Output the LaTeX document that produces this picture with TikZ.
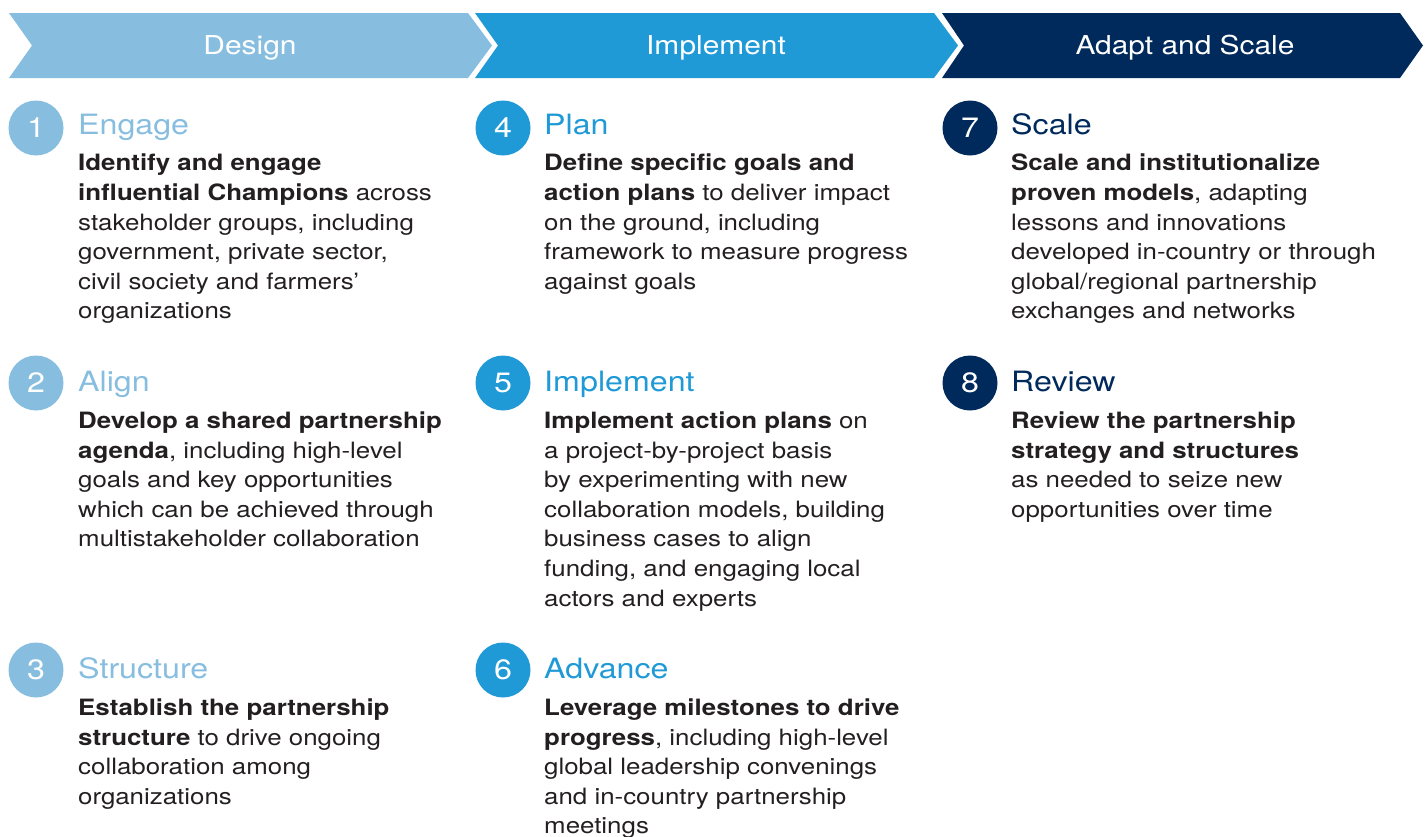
\documentclass[tikz,border=0pt]{standalone}
\usepackage{fontspec}
\setmainfont{TeX Gyre Heros}[FakeStretch=1.15]
\usetikzlibrary{positioning}

\definecolor{dsgn}{HTML}{87BEE0}
\definecolor{impl}{HTML}{1F9AD6}
\definecolor{adpt}{HTML}{012A5C}
\definecolor{txt}{HTML}{231F20}

\tikzset{
    phasebar/.style={
        fill=#1
    },
    phasename/.style={
        text=white,
        inner sep=0,
        font=\fontsize{26}{26}\selectfont
    },
    numdot/.style={
        circle,
        fill=#1, % same colour as the phase
        minimum size=55pt,
        inner sep=0,
        text=white,
        font=\fontsize{28}{28}\selectfont
    },
    steptitle/.style={
        text=#1,
        anchor=base west,
        inner sep=0,
        font=\fontsize{28}{28}\selectfont
    },
    bodytext/.style={
        align=left,
        anchor=north west,
        inner sep=0,
        text=txt,
        font=\fontsize{22.5}{29.6}\selectfont,
        execute at begin node=\strut % first line gets a fixed height
    }
}

\begin{document}
\begin{tikzpicture}[x=1pt, y=-1pt]
    \useasboundingbox (0,0) rectangle (1428,836);

    % chevrons
    \fill[phasebar=dsgn] (9,13) -- (468,13) -- (492,45.5) -- (468,78) -- (9,78) -- (32,45.5) -- cycle;
    \fill[phasebar=impl] (475,13) -- (934,13) -- (958,45.5) -- (934,78) -- (475,78) -- (498,45.5) -- cycle;
    \fill[phasebar=adpt] (942,13) -- (1400,13) -- (1423,45.5) -- (1400,78) -- (942,78) -- (964,45.5) -- cycle;
    \node[phasename] (design) at (250,48) {Design};
    \node[phasename] (implement) at (716,48) {Implement};
    \node[phasename] (adapt) at (1185,48) {Adapt and Scale};

    % Design
    \node[numdot=dsgn] (n1) at (36,128) {1};
    \node[steptitle=dsgn] (t1) at ([shift={(42,6)}]n1.center) {Engage};
    \node[bodytext] (b1) at ([yshift=-20pt]t1.base west)
        {\textbf{Identify and engage}\\ \textbf{influential Champions} across\\ stakeholder groups, including\\ government, private sector,\\ civil society and farmers’\\ organizations};

    \node[numdot=dsgn] (n2) at (36,383) {2};
    \node[steptitle=dsgn] (t2) at ([shift={(42,8)}]n2.center) {Align};
    \node[bodytext] (b2) at ([yshift=-20.5pt]t2.base west)
        {\textbf{Develop a shared partnership}\\ \textbf{agenda}, including high-level\\ goals and key opportunities\\ which can be achieved through\\ multistakeholder collaboration};

    \node[numdot=dsgn] (n3) at (36,670) {3};
    \node[steptitle=dsgn] (t3) at ([shift={(42,8)}]n3.center) {Structure};
    \node[bodytext] (b3) at ([yshift=-20.5pt]t3.base west)
        {\textbf{Establish the partnership}\\ \textbf{structure} to drive ongoing\\ collaboration among\\ organizations};

    % Implement
    \node[numdot=impl] (n4) at (503,128) {4};
    \node[steptitle=impl] (t4) at ([shift={(41,6)}]n4.center) {Plan};
    \node[bodytext] (b4) at ([yshift=-20pt]t4.base west)
        {\textbf{Define specific goals and}\\ \textbf{action plans} to deliver impact\\ on the ground, including\\ framework to measure progress\\ against goals};

    \node[numdot=impl] (n5) at (503,383) {5};
    \node[steptitle=impl] (t5) at ([shift={(41,8)}]n5.center) {Implement};
    \node[bodytext] (b5) at ([yshift=-20.5pt]t5.base west)
        {\textbf{Implement action plans} on\\ a project-by-project basis\\ by experimenting with new\\ collaboration models, building\\ business cases to align\\ funding, and engaging local\\ actors and experts};

    \node[numdot=impl] (n6) at (503,670) {6};
    \node[steptitle=impl] (t6) at ([shift={(41,8)}]n6.center) {Advance};
    \node[bodytext] (b6) at ([yshift=-20.5pt]t6.base west)
        {\textbf{Leverage milestones to drive}\\ \textbf{progress}, including high-level\\ global leadership convenings\\ and in-country partnership\\ meetings};

    % Adapt and Scale
    \node[numdot=adpt] (n7) at (970,128) {7};
    \node[steptitle=adpt] (t7) at ([shift={(41,6)}]n7.center) {Scale};
    \node[bodytext] (b7) at ([yshift=-20pt]t7.base west)
        {\textbf{Scale and institutionalize}\\ \textbf{proven models}, adapting\\ lessons and innovations\\ developed in-country or through\\ global/regional partnership\\ exchanges and networks};

    \node[numdot=adpt] (n8) at (970,383) {8};
    \node[steptitle=adpt] (t8) at ([shift={(41,8)}]n8.center) {Review};
    \node[bodytext] (b8) at ([yshift=-20.5pt]t8.base west)
        {\textbf{Review the partnership}\\ \textbf{strategy and structures}\\ as needed to seize new\\ opportunities over time};
\end{tikzpicture}
\end{document}
